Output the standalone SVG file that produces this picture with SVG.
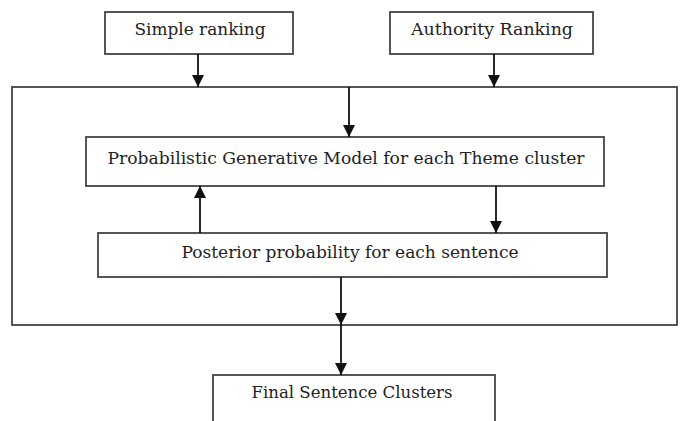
<svg xmlns="http://www.w3.org/2000/svg" width="681" height="421" viewBox="0 0 681 421">
<style>
.box{fill:#fff;stroke:#444;stroke-width:1.8}
.lbl{font-family:"DejaVu Serif","Liberation Serif",serif;font-size:16px;fill:#222;text-anchor:middle}
.con{stroke:#111;stroke-width:1.8;fill:none}
</style>
<defs>
<marker id="ah" viewBox="0 0 12 12" refX="12" refY="6" markerWidth="12" markerHeight="12" markerUnits="userSpaceOnUse" orient="auto">
<path d="M0,0 L12,6 L0,12 z" fill="#111"/>
</marker>
</defs>
<rect width="681" height="421" fill="#fff"/>
<g id="outer"><rect class="box" x="12" y="87" width="665" height="238"/></g>
<g id="simple"><rect class="box" x="105" y="12" width="188" height="42"/><text class="lbl" x="200" y="35" textLength="131" lengthAdjust="spacingAndGlyphs">Simple ranking</text></g>
<g id="authority"><rect class="box" x="390" y="12" width="203" height="42"/><text class="lbl" x="492" y="35" textLength="162" lengthAdjust="spacingAndGlyphs">Authority Ranking</text></g>
<g id="pgm"><rect class="box" x="86" y="137" width="518" height="49"/><text class="lbl" x="346" y="164" textLength="477" lengthAdjust="spacingAndGlyphs">Probabilistic Generative Model for each Theme cluster</text></g>
<g id="posterior"><rect class="box" x="98" y="233" width="509" height="44"/><text class="lbl" x="350" y="258" textLength="337" lengthAdjust="spacingAndGlyphs">Posterior probability for each sentence</text></g>
<g id="final"><rect class="box" x="213" y="375" width="282" height="60"/><text class="lbl" x="352" y="398" textLength="201" lengthAdjust="spacingAndGlyphs">Final Sentence Clusters</text></g>
<g id="connectors">
<line class="con" x1="198" y1="54" x2="198" y2="87" marker-end="url(#ah)"/>
<line class="con" x1="494" y1="54" x2="494" y2="87" marker-end="url(#ah)"/>
<line class="con" x1="349" y1="87" x2="349" y2="137" marker-end="url(#ah)"/>
<line class="con" x1="200" y1="233" x2="200" y2="186" marker-end="url(#ah)"/>
<line class="con" x1="496" y1="186" x2="496" y2="233" marker-end="url(#ah)"/>
<line class="con" x1="341" y1="277" x2="341" y2="325" marker-end="url(#ah)"/>
<line class="con" x1="341" y1="325" x2="341" y2="375" marker-end="url(#ah)"/>
</g>
</svg>
